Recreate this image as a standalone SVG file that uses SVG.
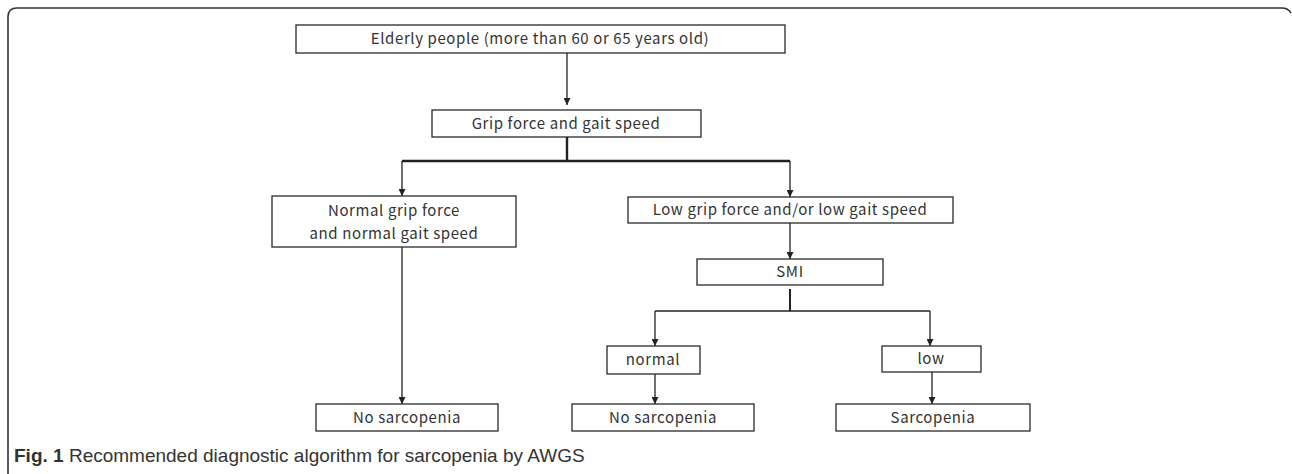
<svg xmlns="http://www.w3.org/2000/svg" width="1292" height="474" viewBox="0 0 1292 474">
<style>
.box rect{fill:#fff;stroke:#2a2a2a;stroke-width:1.3}
.box text{font-family:"Noto Sans CJK JP","Noto Sans",sans-serif;font-size:15px;fill:#333;text-anchor:middle;letter-spacing:0.6px}
.c{fill:none;stroke:#222;stroke-width:1.3}
.t{fill:none;stroke:#222;stroke-width:2.4}
.cap{font-family:"Liberation Sans",Arial,sans-serif;font-size:19px;fill:#333}
</style>
<defs>
<marker id="ah" viewBox="0 0 8 8" refX="8" refY="4" markerWidth="7" markerHeight="7" markerUnits="userSpaceOnUse" orient="auto"><path d="M0,0 L8,4 L0,8 z" fill="#222"/></marker>
</defs>
<path d="M8 474 V17 Q8 8 17 8 H1282 Q1288 8 1291 13" fill="none" stroke="#333" stroke-width="1.6"/>
<g id="connectors">
<path class="c" d="M567 53 V105" marker-end="url(#ah)"/>
<path class="t" d="M567 137 V161"/>
<path class="t" d="M402 161 H790"/>
<path class="c" d="M402 161 V196" marker-end="url(#ah)"/>
<path class="c" d="M790 161 V197" marker-end="url(#ah)"/>
<path class="c" d="M402 247 V404" marker-end="url(#ah)"/>
<path class="c" d="M790 223 V259" marker-end="url(#ah)"/>
<path class="t" d="M790 289 V311" style="stroke-width:2"/>
<path class="c" d="M655 311 H930"/>
<path class="c" d="M655 311 V346" marker-end="url(#ah)"/>
<path class="c" d="M930 311 V346" marker-end="url(#ah)"/>
<path class="c" d="M655 372 V404" marker-end="url(#ah)"/>
<path class="c" d="M932 372 V404" marker-end="url(#ah)"/>
</g>
<g id="elderly" class="box"><rect x="296" y="25" width="489" height="28"/><text x="540" y="44">Elderly people (more than 60 or 65 years old)</text></g>
<g id="grip" class="box"><rect x="432" y="110" width="269" height="27"/><text x="566" y="129">Grip force and gait speed</text></g>
<g id="normalgrip" class="box"><rect x="272" y="196" width="244" height="51"/><text x="394" y="216">Normal grip force</text><text x="394" y="239">and normal gait speed</text></g>
<g id="lowgrip" class="box"><rect x="628" y="197" width="325" height="26"/><text x="790" y="215">Low grip force and/or low gait speed</text></g>
<g id="smi" class="box"><rect x="697" y="259" width="186" height="26"/><text x="790" y="277">SMI</text></g>
<g id="normal" class="box"><rect x="607" y="346" width="93" height="28"/><text x="653" y="365">normal</text></g>
<g id="low" class="box"><rect x="882" y="346" width="99" height="26"/><text x="931" y="364">low</text></g>
<g id="nosarc1" class="box"><rect x="316" y="404" width="182" height="27"/><text x="407" y="423">No sarcopenia</text></g>
<g id="nosarc2" class="box"><rect x="572" y="404" width="182" height="27"/><text x="663" y="423">No sarcopenia</text></g>
<g id="sarc" class="box"><rect x="836" y="404" width="194" height="27"/><text x="933" y="423">Sarcopenia</text></g>
<text class="cap" x="14" y="462"><tspan font-weight="bold">Fig. 1</tspan> Recommended diagnostic algorithm for sarcopenia by AWGS</text>
</svg>
